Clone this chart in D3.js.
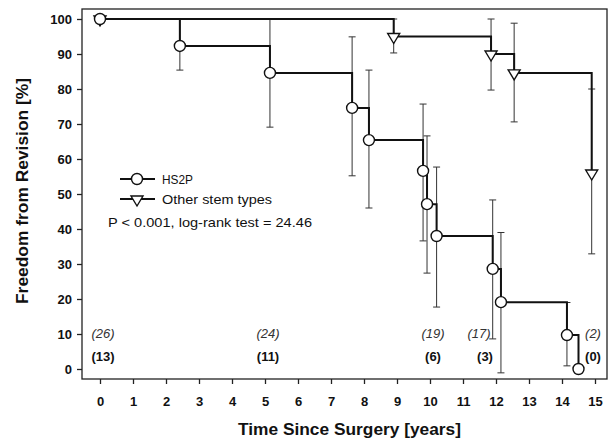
<!DOCTYPE html>
<html>
<head>
<meta charset="utf-8">
<script src="https://cdn.jsdelivr.net/npm/d3@7"></script>
<style>
  body { margin: 0; background: #fff; }
  text { font-family: "Liberation Sans", Arial, sans-serif; }
</style>
</head>
<body>
<script>
// Kaplan-Meier: freedom from revision

let w = 611;
let h = 442;

// HS2P
let hsTime = [0, 2.42, 5.15, 7.64, 8.15, 9.79, 9.91, 10.2, 11.9, 12.15, 14.15, 14.5];
let hsValue = [100, 92.3, 84.6, 74.6, 65.4, 56.6, 47.1, 38, 28.6, 19.1, 9.7, 0];
let hsUpper = [null, 100, 100, 94.9, 85.4, 75.7, 66.6, 57.7, 48.3, 39, 19, null];
let hsLower = [null, 85.4, 69.1, 55.2, 46, 36.6, 27.4, 17.7, 8.6, -1.1, 0.9, null];

// other stem types
let otTime = [0, 8.9, 11.85, 12.55, 14.9];
let otValue = [100, 95, 90, 84.6, 56];
let otUpper = [null, 100, 100, 98.8, 80];
let otLower = [null, 90.3, 79.7, 70.6, 32.9];

// number at risk
let riskYears = [0, 5, 10, 12, 15];
let riskOther = [26, 24, 19, 17, 2];
let riskHS2P = [13, 11, 6, 3, 0];

let xTicks = d3.range(0, 16);
let yTicks = d3.range(0, 101, 10);

let svg = d3.select('body').append('svg').attr('width', w).attr('height', h);

let x = d3.scaleLinear().domain([0, 15]).range([100, 595]);
let y = d3.scaleLinear().domain([0, 100]).range([369, 19]);

let pLeft = 82, pRight = 607, pTop = 9, pBottom = 379;

// frame
svg.append('rect')
    .attr('x', pLeft).attr('y', pTop)
    .attr('width', pRight - pLeft).attr('height', pBottom - pTop)
    .attr('fill', 'none').attr('stroke', '#222').attr('stroke-width', 1.3);

// axes
let yAxis = svg.append('g')
    .attr('transform', `translate(${pLeft},0)`)
    .call(d3.axisLeft(y).tickValues(yTicks).tickSize(5).tickPadding(5));
let xAxis = svg.append('g')
    .attr('transform', `translate(0,${pBottom})`)
    .call(d3.axisBottom(x).tickValues(xTicks).tickSize(5).tickPadding(13));

[yAxis, xAxis].forEach(a => {
    a.select('.domain').remove();
    a.selectAll('line').attr('stroke', '#222').attr('stroke-width', 1.3);
    a.selectAll('text')
        .attr('font-size', '13px')
        .attr('font-weight', 'bold')
        .attr('fill', '#111')
        .style('font-family', '"Liberation Sans", Arial, sans-serif');
});

// titles
svg.append('text')
    .attr('x', 238).attr('y', 435)
    .attr('textLength', 223).attr('lengthAdjust', 'spacingAndGlyphs')
    .attr('font-size', '16.5px').attr('font-weight', 'bold').attr('fill', '#111')
    .text('Time Since Surgery [years]');

svg.append('text')
    .attr('transform', 'translate(28,191) rotate(-90)')
    .attr('text-anchor', 'middle')
    .attr('textLength', 226).attr('lengthAdjust', 'spacingAndGlyphs')
    .attr('font-size', '16.5px').attr('font-weight', 'bold').attr('fill', '#111')
    .text('Freedom from Revision [%]');

function toPts(t, v, up, lo) {
    return t.map((d, i) => ({ t: d, v: v[i], up: up[i], lo: lo[i] }));
}
let hs = toPts(hsTime, hsValue, hsUpper, hsLower);
let ot = toPts(otTime, otValue, otUpper, otLower);

function errorBars(data) {
    let g = svg.append('g').attr('stroke', '#333').attr('stroke-width', 1);
    let d = data.filter(p => p.up != null);
    g.selectAll('line.v').data(d).enter().append('line')
        .attr('x1', p => x(p.t)).attr('x2', p => x(p.t))
        .attr('y1', p => y(p.up)).attr('y2', p => y(p.lo));
    g.selectAll('line.cu').data(d).enter().append('line')
        .attr('x1', p => x(p.t) - 3.5).attr('x2', p => x(p.t) + 3.5)
        .attr('y1', p => y(p.up)).attr('y2', p => y(p.up));
    g.selectAll('line.cl').data(d).enter().append('line')
        .attr('x1', p => x(p.t) - 3.5).attr('x2', p => x(p.t) + 3.5)
        .attr('y1', p => y(p.lo)).attr('y2', p => y(p.lo));
}
errorBars(hs);
errorBars(ot);

let step = d3.line().x(p => x(p.t)).y(p => y(p.v)).curve(d3.curveStepAfter);

svg.append('path').datum(ot).attr('d', step)
    .attr('fill', 'none').attr('stroke', '#111').attr('stroke-width', 2);
svg.append('path').datum(hs).attr('d', step)
    .attr('fill', 'none').attr('stroke', '#111').attr('stroke-width', 2);

function triPath(cx, cy) {
    return `M${cx - 6},${cy - 3}L${cx + 6},${cy - 3}L${cx},${cy + 7}Z`;
}

svg.selectAll('path.tri').data(ot).enter().append('path')
    .attr('d', p => triPath(x(p.t), y(p.v)))
    .attr('fill', '#fff').attr('stroke', '#111').attr('stroke-width', 1.4);

svg.selectAll('circle.hs').data(hs).enter().append('circle')
    .attr('cx', p => x(p.t)).attr('cy', p => y(p.v)).attr('r', 5.5)
    .attr('fill', '#fff').attr('stroke', '#111').attr('stroke-width', 1.4);

// legend
let lg = svg.append('g');
lg.append('line').attr('x1', 120).attr('x2', 155).attr('y1', 179).attr('y2', 179)
    .attr('stroke', '#111').attr('stroke-width', 2);
lg.append('circle').attr('cx', 137).attr('cy', 179).attr('r', 5.5)
    .attr('fill', '#fff').attr('stroke', '#111').attr('stroke-width', 1.4);
lg.append('text').attr('x', 162).attr('y', 184).attr('font-size', '13.5px').attr('fill', '#111')
    .attr('textLength', 31).attr('lengthAdjust', 'spacingAndGlyphs')
    .text('HS2P');
lg.append('line').attr('x1', 120).attr('x2', 155).attr('y1', 199).attr('y2', 199)
    .attr('stroke', '#111').attr('stroke-width', 2);
lg.append('path').attr('d', triPath(137, 199))
    .attr('fill', '#fff').attr('stroke', '#111').attr('stroke-width', 1.4);
lg.append('text').attr('x', 162).attr('y', 204).attr('font-size', '13.5px').attr('fill', '#111')
    .attr('textLength', 110).attr('lengthAdjust', 'spacingAndGlyphs')
    .text('Other stem types');
lg.append('text').attr('x', 108).attr('y', 227).attr('font-size', '13px').attr('fill', '#111')
    .attr('textLength', 204).attr('lengthAdjust', 'spacingAndGlyphs')
    .text('P < 0.001, log-rank test = 24.46');

// numbers at risk
let dxOther = d => d === 12 ? -17 : (d === 15 ? -2 : 3);
let dxHS = d => d === 12 ? -11 : (d === 15 ? -2 : 3);
svg.selectAll('text.ro').data(riskYears).enter().append('text')
    .attr('x', d => x(d) + dxOther(d)).attr('y', 338)
    .attr('text-anchor', 'middle').attr('font-size', '13px').attr('font-style', 'italic').attr('fill', '#333')
    .text((d, i) => `(${riskOther[i]})`);
svg.selectAll('text.rh').data(riskYears).enter().append('text')
    .attr('x', d => x(d) + dxHS(d)).attr('y', 361)
    .attr('text-anchor', 'middle').attr('font-size', '13px').attr('font-weight', 'bold').attr('fill', '#111')
    .text((d, i) => `(${riskHS2P[i]})`);
</script>
</body>
</html>
